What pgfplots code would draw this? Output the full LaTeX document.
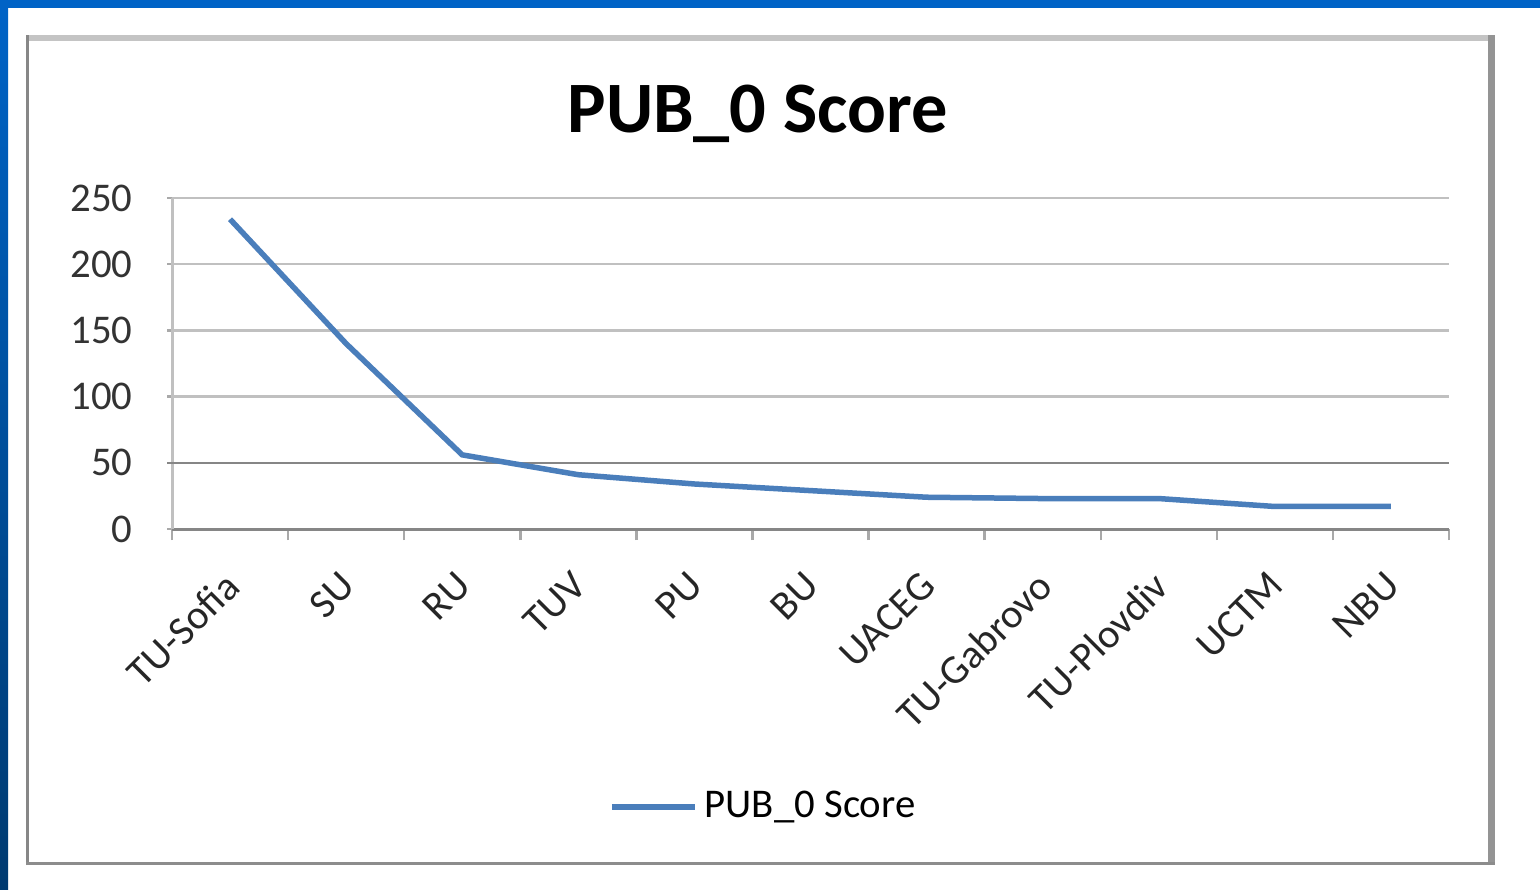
\documentclass[border=0pt]{standalone}
\usepackage{fontspec}
\setmainfont{Carlito}
\usepackage{pgfplots}
\pgfplotsset{compat=1.18}

\definecolor{slideblue}{HTML}{0063C6}
\definecolor{slidenavy}{HTML}{003A70}
\definecolor{seriesblue}{HTML}{4A7EBB}
\definecolor{gridlight}{HTML}{C0C0C0}
\definecolor{griddark}{HTML}{868686}

\begin{document}
\begin{tikzpicture}[x=1mm,y=1mm]
  \useasboundingbox (0,0) rectangle (154,88.9);
  \fill[white] (0,0) rectangle (154,88.9);
  % slide background strips
  \fill[slideblue] (0,88.1) rectangle (154,88.9);
  \shade[top color=slideblue, bottom color=slidenavy] (0,0) rectangle (0.8,88.2);
  % chart frame
  \draw[line width=0.6mm, color=black!23] (2.6,85.1) -- (149.5,85.1);
  \draw[line width=0.3mm, color=black!47] (2.75,2.4) -- (2.75,85.4);
  \draw[line width=0.7mm, color=black!42] (149.15,2.4) -- (149.15,85.4);
  \draw[line width=0.3mm, color=black!45] (2.6,2.55) -- (149.5,2.55);

  \node[font=\bfseries\fontsize{20.6}{24}\selectfont, anchor=base] at (75.75,75.6) {PUB\_0 Score};

  \begin{axis}[
      at={(17.2mm,36.0mm)}, anchor=south west,
      scale only axis, width=127.7mm, height=33.1mm,
      xmin=-0.5, xmax=10.5, ymin=0, ymax=250,
      axis line style={-},
      axis x line*=bottom, axis y line*=left,
      x axis line style={griddark, line width=0.3mm},
      y axis line style={gridlight, line width=0.3mm},
      xtick={0,...,10},
      xticklabels={TU-Sofia,SU,RU,TUV,PU,BU,UACEG,TU-Gabrovo,TU-Plovdiv,UCTM,NBU},
      major x tick style={draw=none},
      minor xtick={-0.5,0.5,...,10.5},
      ytick={0,50,...,250},
      tick align=outside,
      major tick length=0.5mm,
      minor tick length=1.1mm,
      tick style={color=gridlight!60!griddark, line width=0.25mm},
      ymajorgrids,
      grid style={gridlight, line width=0.25mm},
      extra y ticks={50},
      extra y tick labels={},
      extra y tick style={grid style={griddark, line width=0.25mm}, tick style={griddark}},
      /pgf/number format/assume math mode=true,
      yticklabel style={font=\fontsize{11.6}{13}\selectfont, color=black!80, xshift=-2.2mm},
      xticklabel style={xshift=-0.8mm, yshift=-1.8mm,
        font=\fontsize{11.6}{13}\selectfont, color=black!85,
        rotate=45, anchor=north east},
      legend style={at={(0.465,-0.84)}, anchor=center, draw=none, fill=none,
        font=\fontsize{11.6}{13}\selectfont},
      legend image code/.code={\draw[#1] (0mm,0mm) -- (8.3mm,0mm);},
    ]
    \addplot[seriesblue, line width=0.55mm] coordinates {
      (0,234) (1,140) (2,56) (3,41) (4,34) (5,29)
      (6,24) (7,23) (8,23) (9,17) (10,17)
    };
    \addlegendentry{PUB\_0 Score}
  \end{axis}
\end{tikzpicture}
\end{document}
